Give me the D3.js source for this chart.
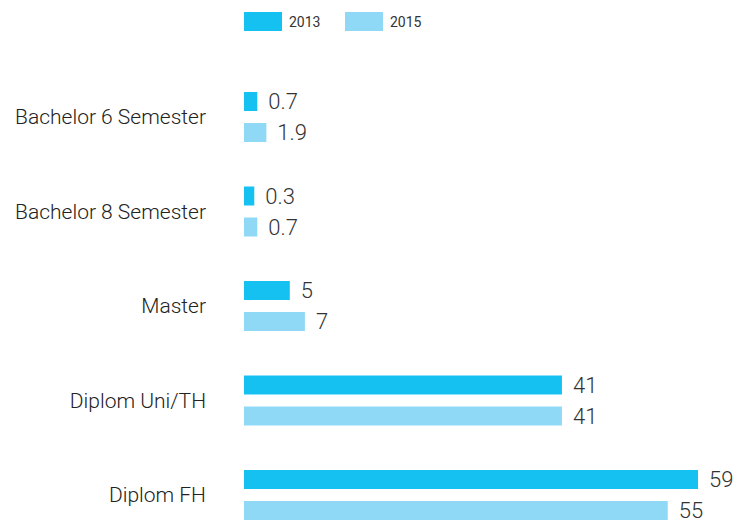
<!DOCTYPE html>
<html>
<head>
<meta charset="utf-8">
<script src="https://cdn.jsdelivr.net/npm/d3@7"></script>
<style>
  html, body { margin: 0; padding: 0; background: #fff; }
  svg { display: block; }
</style>
</head>
<body>
<div id="chart"></div>
<script>
const categories = ["Bachelor 6 Semester", "Bachelor 8 Semester", "Master", "Diplom Uni/TH", "Diplom FH"];
const seriesNames = ["2013", "2015"];
const values2013 = [0.7, 0.3, 5, 41, 59];
const values2015 = [1.9, 0.7, 7, 41, 55];
const colors = ["#15c1f1", "#90d9f6"];

const width = 737, height = 523;
const barLeft = 244;    // bars start here, zero sits a few px further right
const barH = 19, barGap = 12;
const groupH = barH * 2 + barGap;

const svg = d3.select("#chart").append("svg")
  .attr("width", width)
  .attr("height", height);

const x = d3.scaleLinear().domain([0, 59]).range([barLeft + 8, barLeft + 454]);

const y = d3.scaleBand()
  .domain(categories)
  .range([69.75, 542.25]);

const sub = d3.scaleBand()
  .domain(seriesNames)
  .range([0, groupH])
  .paddingInner(barGap / (barH + barGap));

const rows = categories.map((c, i) => ({
  cat: c,
  vals: [values2013[i], values2015[i]]
}));

// legend
const legend = svg.append("g").attr("transform", "translate(244, 12)");
seriesNames.forEach((s, i) => {
  const g = legend.append("g").attr("transform", `translate(${i * 101}, 0)`);
  g.append("rect").attr("width", 38).attr("height", 19).attr("fill", colors[i]);
  g.append("text")
    .attr("x", 45).attr("y", 10)
    .attr("dy", "0.35em")
    .attr("font-family", "Roboto, sans-serif")
    .attr("font-size", 14)
    .attr("fill", "#333")
    .text(s);
});

const groups = svg.selectAll("g.row").data(rows).join("g")
  .attr("class", "row")
  .attr("transform", d => `translate(0, ${y(d.cat) + (y.bandwidth() - groupH) / 2})`);

groups.append("text")
  .attr("x", 206)
  .attr("y", groupH / 2)
  .attr("dy", "0.35em")
  .attr("text-anchor", "end")
  .attr("font-family", "Roboto, sans-serif")
  .attr("font-weight", 300)
  .attr("font-size", 21)
  .attr("fill", "#222")
  .text(d => d.cat);

groups.each(function(d) {
  const g = d3.select(this);
  d.vals.forEach((v, i) => {
    const yy = sub(seriesNames[i]);
    g.append("rect")
      .attr("x", barLeft)
      .attr("y", yy)
      .attr("width", x(v) - barLeft)
      .attr("height", barH)
      .attr("fill", colors[i]);
    g.append("text")
      .attr("x", x(v) + 11)
      .attr("y", yy + barH / 2)
      .attr("dy", "0.35em")
      .attr("font-family", "Roboto, sans-serif")
      .attr("font-weight", 300)
      .attr("font-size", 22)
      .attr("fill", "#333")
      .text(v);
  });
});
</script>
</body>
</html>
